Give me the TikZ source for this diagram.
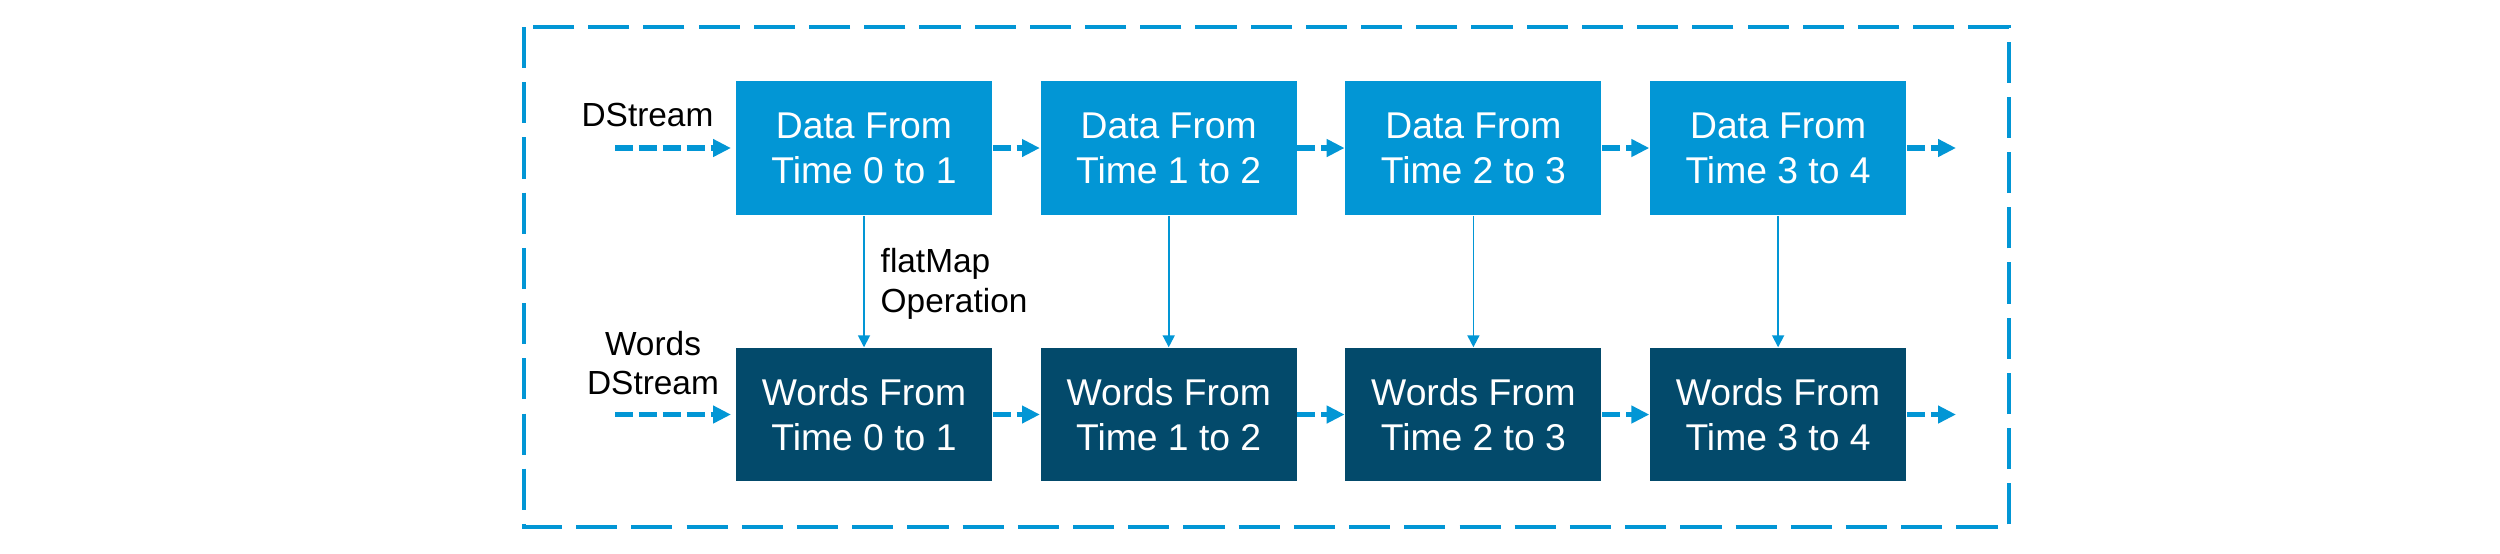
\documentclass[tikz,border=0pt]{standalone}
\usepackage{fontspec}
\setmainfont{Liberation Sans}
\usetikzlibrary{arrows.meta}
\definecolor{lblue}{RGB}{2,150,213}
\definecolor{dblue}{RGB}{3,74,107}
\begin{document}
\begin{tikzpicture}[x=0.01cm,y=-0.01cm,
  databox/.style={fill=lblue, text=white, minimum width=2.56cm, minimum height=1.34cm, inner sep=0pt, align=center, font=\fontsize{10.6}{12.8}\selectfont},
  wordbox/.style={databox, fill=dblue, minimum height=1.33cm},
  flow/.style={draw=lblue, line width=1.6pt, dash pattern=on 5.1pt off 1.7pt, -{Triangle[length=5.1pt,width=4.8pt]}},
  mapflow/.style={draw=lblue, line width=0.5pt, -{Triangle[length=3.4pt,width=3.4pt]}},
  lbl/.style={inner sep=0pt, font=\fontsize{9.5}{11.3}\selectfont},
  frame/.style={draw=lblue, line width=1.14pt, dash pattern=on 11.7pt off 4pt}
]
\useasboundingbox (0,0) rectangle (2500,553);
\draw[frame] (524,27) rectangle (2009,527);

\node[databox] (d1) at (864,148) {Data From\\Time 0 to 1};
\node[databox] (d2) at (1168.7,148) {Data From\\Time 1 to 2};
\node[databox] (d3) at (1473.4,148) {Data From\\Time 2 to 3};
\node[databox] (d4) at (1778.1,148) {Data From\\Time 3 to 4};

\node[wordbox] (w1) at (864,414.5) {Words From\\Time 0 to 1};
\node[wordbox] (w2) at (1168.7,414.5) {Words From\\Time 1 to 2};
\node[wordbox] (w3) at (1473.4,414.5) {Words From\\Time 2 to 3};
\node[wordbox] (w4) at (1778.1,414.5) {Words From\\Time 3 to 4};

\node[lbl, anchor=base] (lds) at (647.5,126) {DStream};
\node[lbl, align=center] (lwds) at (653,363) {Words\\DStream};
\node[lbl, align=left, anchor=west] (lfm) at (880,284) {flatMap\\Operation};

\coordinate (din) at (615,148);
\coordinate (win) at (615,414.5);
\coordinate (dout) at (1956,148);
\coordinate (wout) at (1956,414.5);

\draw[flow, shorten >=1.2pt] (din) -- (d1.west);
\draw[flow] (d1.east) -- (d2.west);
\draw[flow] (d2.east) -- (d3.west);
\draw[flow] (d3.east) -- (d4.west);
\draw[flow] (d4.east) -- (dout);

\draw[flow, shorten >=1.2pt] (win) -- (w1.west);
\draw[flow] (w1.east) -- (w2.west);
\draw[flow] (w2.east) -- (w3.west);
\draw[flow] (w3.east) -- (w4.west);
\draw[flow] (w4.east) -- (wout);

\draw[mapflow] (d1.south) -- (w1.north);
\draw[mapflow] (d2.south) -- (w2.north);
\draw[mapflow] (d3.south) -- (w3.north);
\draw[mapflow] (d4.south) -- (w4.north);
\end{tikzpicture}
\end{document}
